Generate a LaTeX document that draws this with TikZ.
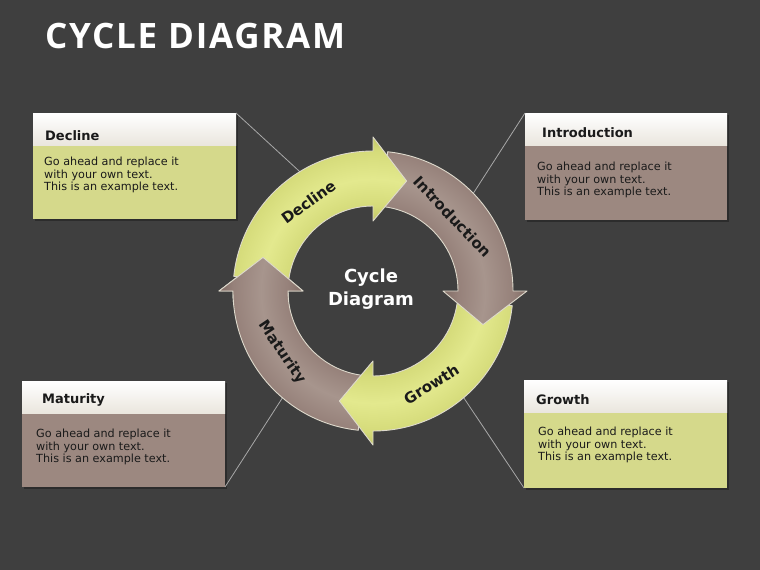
\documentclass[tikz,border=0pt]{standalone}
\usepackage{fontspec}
\setmainfont{DejaVu Sans}
\newfontfamily\titlefont[LetterSpace=5]{Open Sans}
\usetikzlibrary{calc}
\definecolor{bg}{HTML}{3F3F3F}
\definecolor{yel}{HTML}{D5DB7A}
\definecolor{yelL}{HTML}{E3E98E}
\definecolor{yelD}{HTML}{C2C768}
\definecolor{brn}{HTML}{96817A}
\definecolor{brnL}{HTML}{A7958D}
\definecolor{brnD}{HTML}{816D66}
\definecolor{ybox}{HTML}{D5D98B}
\definecolor{bbox}{HTML}{9C8880}
\definecolor{hdrT}{HTML}{FFFFFF}
\definecolor{hdrB}{HTML}{EAE6DE}
\definecolor{txt}{HTML}{1A1A1A}
\definecolor{conn}{HTML}{A8A8A8}
\definecolor{rim}{HTML}{DDD9CC}
\definecolor{shad}{HTML}{2C2C2C}
\pgfdeclareradialshading{yring}{\pgfpoint{0bp}{0bp}}{color(0bp)=(yelD); color(11bp)=(yelD); color(13.3bp)=(yel); color(17.5bp)=(yelL); color(21.9bp)=(yel); color(24bp)=(yelD); color(25bp)=(yelD); color(50bp)=(yelD)}
\pgfdeclareradialshading{bring}{\pgfpoint{0bp}{0bp}}{color(0bp)=(brnD); color(11bp)=(brnD); color(13.3bp)=(brn); color(17.5bp)=(brnL); color(21.9bp)=(brn); color(24bp)=(brnD); color(25bp)=(brnD); color(50bp)=(brnD)}
\newcommand\arrpath[2]{(#1:85) arc[start angle=#1, end angle=#2, radius=85] -- (#2:70) -- ({#2-17}:115) -- (#2:154) -- (#2:140) arc[start angle=#2, end angle=#1, radius=140] -- cycle}
\newcommand\cyclearrow[3]{%
  \begin{scope}
    \clip \arrpath{#1}{#2};
    \shade[shading=#3] (0,0) circle (160);
  \end{scope}
  \draw[rimline] \arrpath{#1}{#2};}
\tikzset{
  rimline/.style={draw=rim, line width=0.9pt, line join=round},
  boxbody/.style={draw=none, minimum width=#1, outer sep=0pt, inner sep=0pt, anchor=north west, minimum height=106pt},
  hdrtext/.style={anchor=base west, font=\bfseries\fontsize{13}{15}\selectfont, text=txt, inner sep=0pt},
  bodytext/.style={anchor=north west, align=left, font=\fontsize{11.2}{12.8}\selectfont, text=txt, inner sep=0pt},
  arrlabel/.style={font=\bfseries\fontsize{15}{18}\selectfont, text=txt, inner sep=0pt},
  connline/.style={draw=conn, line width=0.8pt}
}
\begin{document}
\begin{tikzpicture}[x=1pt,y=-1pt]
\fill[bg] (0,0) rectangle (760,570);
\useasboundingbox (0,0) rectangle (760,570);
% title
\node[anchor=base west, inner sep=0pt, text=white, font=\titlefont\bfseries\fontsize{35}{40}\selectfont] (title) at (45,48) {CYCLE DIAGRAM};
% boxes
\newcommand\infobox[6]{% name, x, y, width, height, color
  \fill[shad] ({#2+2},{#3+2}) rectangle ({#2+#4+2},{#3+#5+2});
  \node[boxbody=#4pt, minimum height=#5pt, fill=#6] (#1) at (#2,#3) {};
  \fill[top color=hdrT, bottom color=hdrB] (#1.north west) rectangle ($(#1.north east)+(0,32)$);
}
\infobox{dbox}{33}{113}{203}{106}{ybox}
\infobox{ibox}{525}{113}{202}{107}{bbox}
\infobox{mbox}{22}{381}{203}{106}{bbox}
\infobox{gbox}{524}{380}{203}{108}{ybox}
\node[hdrtext] (dhead) at (45,140) {Decline};
\node[hdrtext] (ihead) at (542,137) {Introduction};
\node[hdrtext] (mhead) at (42,403) {Maturity};
\node[hdrtext] (ghead) at (536,404) {Growth};
\node[bodytext] (dtext) at (44,156.5) {Go ahead and replace it\\with your own text.\\This is an example text.};
\node[bodytext] (itext) at (537,161.5) {Go ahead and replace it\\with your own text.\\This is an example text.};
\node[bodytext] (mtext) at (36,428.5) {Go ahead and replace it\\with your own text.\\This is an example text.};
\node[bodytext] (gtext) at (538,426.5) {Go ahead and replace it\\with your own text.\\This is an example text.};
% ring
\begin{scope}[shift={(373,291)}, yscale=-1]
  \coordinate (cd) at (120:128);
  \coordinate (ci) at (43:128);
  \coordinate (cm) at (-131:128);
  \coordinate (cg) at (-49:128);
\end{scope}
\draw[connline] (dbox.north east) -- (cd);
\draw[connline] (ibox.north west) -- (ci);
\draw[connline] (mbox.south east) -- (cm);
\draw[connline] (gbox.south west) -- (cg);
\begin{scope}[shift={(373,291)}, yscale=-1]
  \cyclearrow{-96}{-180}{bring}
  \cyclearrow{-6}{-90}{yring}
  \cyclearrow{84}{0}{bring}
  \cyclearrow{174}{90}{yring}
  \begin{scope}
    \clip (0,0) -- (150:175) -- (186:175) -- cycle;
    \cyclearrow{-96}{-180}{bring}
  \end{scope}
  \node[arrlabel, rotate=36] (ldec) at (126:110) {Decline};
  \node[arrlabel, rotate=-47] (lint) at (43:109) {Introduction};
  \node[arrlabel, rotate=32] (lgro) at (-58:110) {Growth};
  \node[arrlabel, rotate=-56] (lmat) at (-146:110) {Maturity};
\end{scope}
\node[align=center, text=white, font=\bfseries\fontsize{18}{23}\selectfont, inner sep=0pt] (ctr) at (371,289) {Cycle\\Diagram};
\end{tikzpicture}
\end{document}
